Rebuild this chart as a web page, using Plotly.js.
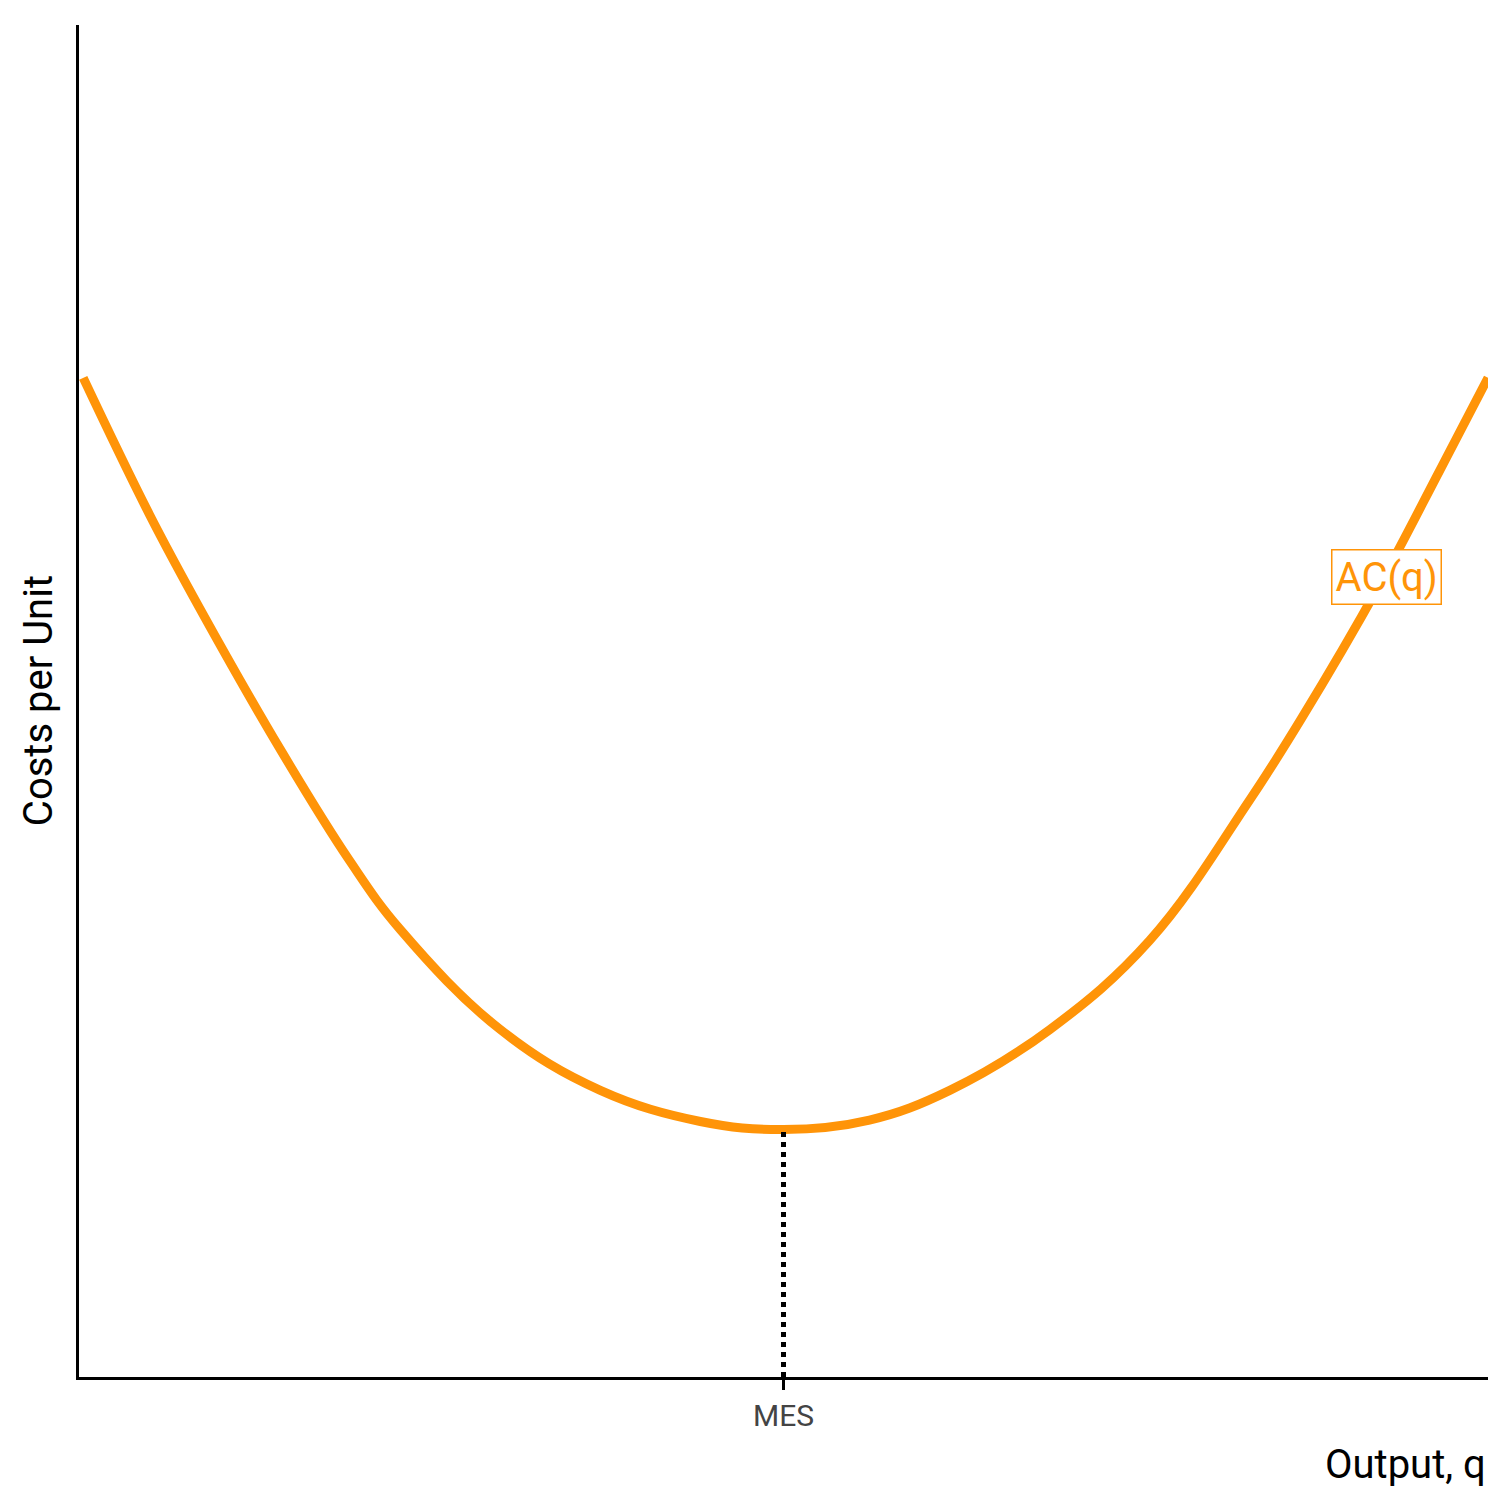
<!DOCTYPE html>
<html>
<head>
<script src="https://cdn.plot.ly/plotly-3.0.1.min.js"></script>
<style>body{margin:0;background:#fff}</style>
</head>
<body>
<div id="chart" style="width:1512px;height:1512px"></div>
<script>
// average cost curve
var outputQ = [0.03, 0.50, 0.86, 1.43, 1.92, 2.28, 2.99, 3.70, 4.41, 5.00, 5.61, 6.18, 6.89, 7.60, 8.31, 8.67, 9.23, 9.66, 10.0];
var avgCost = [7.39, 6.38, 5.68, 4.64, 3.82, 3.31, 2.57, 2.12, 1.89, 1.83, 1.90, 2.12, 2.57, 3.23, 4.27, 4.86, 5.86, 6.71, 7.39];
var mesQ = 5;
var mesCost = 1.83;
var tickVals = [5];
var tickText = ["MES"];

var FONT = '"Liberation Sans Narrow", Roboto, sans-serif';
var ORANGE = '#ff9408';

var acTrace = {
    x: outputQ, y: avgCost, mode: 'lines', type: 'scatter',
    line: {color: ORANGE, width: 9, shape: 'spline', smoothing: 1.1},
    hoverinfo: 'skip'
};
var mesTrace = {
    x: [mesQ, mesQ], y: [0, mesCost], mode: 'lines', type: 'scatter',
    line: {color: 'black', width: 5, dash: 'dot'},
    hoverinfo: 'skip'
};

var layout = {
    width: 1512, height: 1512,
    paper_bgcolor: 'white', plot_bgcolor: 'white',
    showlegend: false,
    margin: {l: 79, r: 24, t: 25, b: 135},
    font: {family: FONT},
    xaxis: {
        range: [0, 10], showgrid: false, zeroline: false,
        showline: true, linecolor: 'black', linewidth: 3,
        tickvals: tickVals, ticktext: tickText, ticks: 'outside',
        ticklen: 10, tickwidth: 3, tickcolor: 'black',
        tickfont: {size: 30, color: '#444', family: FONT}
    },
    yaxis: {
        range: [0, 10], showgrid: false, zeroline: false,
        showline: true, linecolor: 'black', linewidth: 3,
        showticklabels: false, ticks: ''
    },
    annotations: [
        {x: 9.28, y: 5.92, xref: 'x', yref: 'y', text: 'AC(q)', showarrow: false,
         font: {size: 40, color: ORANGE, family: FONT},
         bgcolor: 'white', bordercolor: ORANGE, borderwidth: 1.5, borderpad: 3},
        {x: 1, y: -0.065, xref: 'paper', yref: 'paper', xanchor: 'right', yanchor: 'middle',
         text: 'Output, q', showarrow: false, font: {size: 40, color: 'black', family: FONT}},
        {x: -0.029, y: 0.5, xref: 'paper', yref: 'paper', xanchor: 'center', yanchor: 'middle',
         text: 'Costs per Unit', textangle: -90, showarrow: false,
         font: {size: 40, color: 'black', family: FONT}}
    ]
};

Plotly.newPlot('chart', [acTrace, mesTrace], layout, {displayModeBar: false});
</script>
</body>
</html>
